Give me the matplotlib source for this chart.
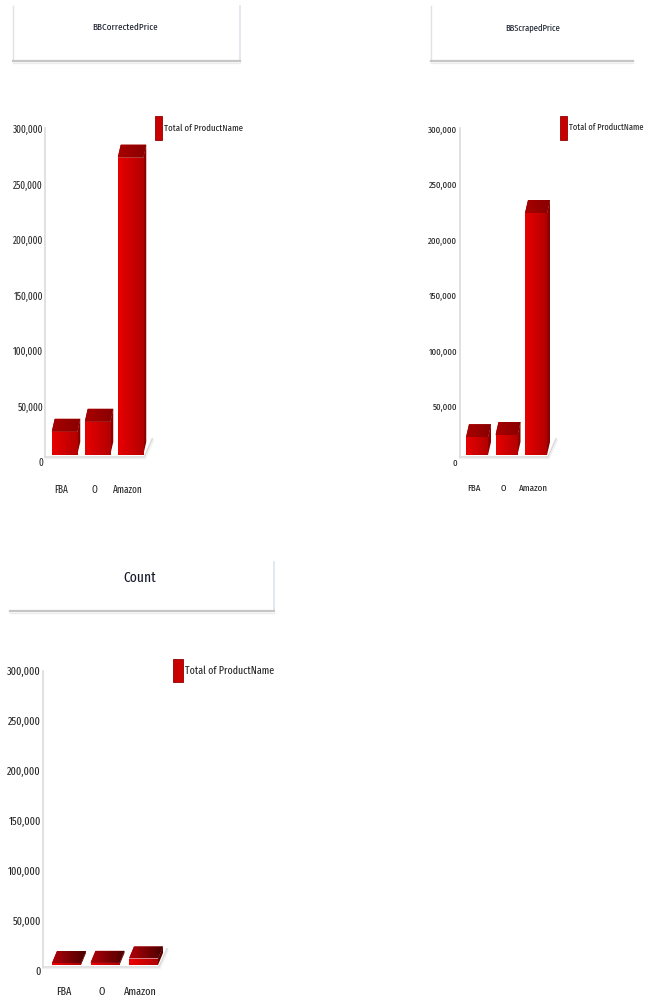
import numpy as np
import matplotlib.pyplot as plt
from matplotlib.patches import Polygon, Patch
from matplotlib.colors import LinearSegmentedColormap
from matplotlib.lines import Line2D
from matplotlib.textpath import TextPath
from matplotlib.font_manager import FontProperties

categories = ["FBA", "O", "Amazon"]
corrected_price = [21000, 30000, 268000]
scraped_price = [16000, 18000, 218000]
count_values = [2000, 2200, 6500]
y_ticks = [0, 50000, 100000, 150000, 200000, 250000, 300000]
y_tick_labels = ["0", "50,000", "100,000", "150,000", "200,000", "250,000", "300,000"]
legend_label = "Total of ProductName"

FONT = ['Fira Sans Extra Condensed', 'Roboto Condensed', 'Liberation Sans', 'DejaVu Sans']
plt.rcParams['font.family'] = FONT
FP = FontProperties(family=FONT)

W, H = 646, 1001
fig = plt.figure(figsize=(W / 100, H / 100), dpi=100)


def fx(x):
    return x / W


def fy(y):
    return 1 - y / H


def fit(text, px):
    # font size (pt) that makes text about px pixels wide
    w = TextPath((0, 0), text, size=10, prop=FP).get_extents().width
    return 10 * px / (w * 100 / 72)


def fig_line(xs, ys, **kw):
    fig.add_artist(Line2D([fx(x) for x in xs], [fy(y) for y in ys], **kw))


def title_box(x0, y0, x1, y1, text, tx, ty, text_px, left=True, right=True):
    if left:
        fig_line([x0, x0], [y0, y1], color='#e2e2e2', lw=1)
    if right:
        fig_line([x1, x1], [y0, y1], color='#dde3ee', lw=1.2)
    fig_line([x0, x1], [y1, y1], color='#c6c6c6', lw=1.6)
    fig_line([x0, x1], [y1 + 2, y1 + 2], color='#ececec', lw=1)
    fig.text(fx(tx), fy(ty), text, ha='center', va='center', fontsize=fit(text, text_px),
             color='#161c2a')


def gradient(ax, patch, extent, c_left, c_right):
    cmap = LinearSegmentedColormap.from_list('g', [c_left, c_right])
    grad = np.linspace(0, 1, 64).reshape(1, -1)
    im = ax.imshow(grad, cmap=cmap, extent=extent, aspect='auto', origin='lower',
                   interpolation='bilinear', zorder=patch.get_zorder() + 0.1)
    im.set_clip_path(patch)


def bar_chart(values, axis_x, base, scale_px, c0, spacing, width_px, depth, right,
              tick_px, xlab_dy, ylab_dx, ylab_dy, leg_xy, leg_px, swatch,
              front_cols, top_cols, side_col):
    ax = fig.add_axes([fx(axis_x), fy(base), (right - axis_x) / W, scale_px / H])
    xmin = -(c0 - axis_x) / spacing
    xmax = (right - c0) / spacing
    ax.set_xlim(xmin, xmax)
    ax.set_ylim(0, 300000)
    ax.axis('off')

    # axis line and floor
    ax.plot([0, 0], [-3 / scale_px, (scale_px - 6) / scale_px], transform=ax.transAxes,
            color='#dedede', lw=1.3, clip_on=False)
    last_right = c0 + 2 * spacing + width_px / 2
    fig_line([axis_x, last_right + 1, last_right + 9], [base + 2, base + 2, base - 16],
             color='#dadada', lw=1.2)
    fig_line([axis_x, last_right + 2, last_right + 10], [base + 3.5, base + 3.5, base - 14.5],
             color='#f0f0f0', lw=1)

    bw = width_px / spacing
    dx = depth[0] / spacing
    dy = depth[1] * 300000 / scale_px
    bars = ax.bar(range(len(categories)), values, width=bw, color=front_cols[0],
                  linewidth=0, zorder=3)
    for b in bars:
        x0 = b.get_x()
        x1 = x0 + b.get_width()
        h = b.get_height()
        gradient(ax, b, [x0, x1, 0, h], front_cols[0], front_cols[1])
        top = Polygon([(x0, h), (x1, h), (x1 + dx, h + dy), (x0 + dx, h + dy)],
                      closed=True, facecolor=top_cols[0], edgecolor='none', zorder=3)
        ax.add_patch(top)
        gradient(ax, top, [x0, x1 + dx, h, h + dy], top_cols[0], top_cols[1])
        side = Polygon([(x1, 0), (x1 + dx, dy), (x1 + dx, h + dy), (x1, h)],
                       closed=True, facecolor=side_col, edgecolor='none', zorder=3)
        ax.add_patch(side)
    ax.set_xlim(xmin, xmax)
    ax.set_ylim(0, 300000)

    fs = fit("300,000", tick_px)
    for v, lab in zip(y_ticks, y_tick_labels):
        ax.annotate(lab, xy=(0, v), xycoords=ax.get_yaxis_transform(),
                    xytext=(ylab_dx, ylab_dy), textcoords='offset pixels',
                    ha='right', va='center', fontsize=fs, color='#222222',
                    annotation_clip=False)
    for i, cat in enumerate(categories):
        ax.annotate(cat, xy=(i, 0), xycoords=ax.get_xaxis_transform(),
                    xytext=(-3, xlab_dy), textcoords='offset pixels',
                    ha='center', va='center', fontsize=fs, color='#222222',
                    annotation_clip=False)

    lfs = fit(legend_label, leg_px)
    unit = lfs * 100 / 72
    hh = (swatch[1] / unit - 0.245) / 0.65
    ax.legend(handles=[Patch(facecolor='#c80000', edgecolor='#900000', linewidth=0.6)],
              labels=[legend_label], loc='upper left',
              bbox_to_anchor=(fx(leg_xy[0]), fy(leg_xy[1])), bbox_transform=fig.transFigure,
              frameon=False, borderpad=0, borderaxespad=0, handlelength=swatch[0] / unit,
              handleheight=hh, handletextpad=2 / unit, fontsize=lfs,
              labelcolor='#222222')
    return ax


# BBCorrectedPrice
title_box(13, 6, 240, 61, "BBCorrectedPrice", 125, 27, 64)
bar_chart(corrected_price, axis_x=45, base=455, scale_px=333, c0=64.5, spacing=33,
          width_px=25.5, depth=(3, 13), right=158, tick_px=30, xlab_dy=-35,
          ylab_dx=-2, ylab_dy=-8, leg_xy=(155, 116), leg_px=78, swatch=(7, 24),
          front_cols=('#e80000', '#b30000'), top_cols=('#a80000', '#880000'),
          side_col='#8c0000')

# BBScrapedPrice
title_box(431, 6, 633, 61, "BBScrapedPrice", 533, 27, 54, right=False)
bar_chart(scraped_price, axis_x=460, base=455, scale_px=333, c0=477, spacing=29.5,
          width_px=22, depth=(3, 13), right=556, tick_px=29, xlab_dy=-33,
          ylab_dx=-3, ylab_dy=-8, leg_xy=(560, 116), leg_px=74, swatch=(7, 24),
          front_cols=('#e80000', '#b30000'), top_cols=('#a80000', '#880000'),
          side_col='#8c0000')

# Count
title_box(10, 562, 274, 611, "Count", 140, 578, 32, left=False)
bar_chart(count_values, axis_x=43, base=965, scale_px=300, c0=66.5, spacing=38.5,
          width_px=29, depth=(5, 12), right=172, tick_px=33, xlab_dy=-27,
          ylab_dx=-2, ylab_dy=-7, leg_xy=(173, 659), leg_px=88, swatch=(10, 23),
          front_cols=('#f00000', '#b00000'), top_cols=('#b00008', '#4a0000'),
          side_col='#5a0000')

plt.savefig("out.png", dpi=100)
